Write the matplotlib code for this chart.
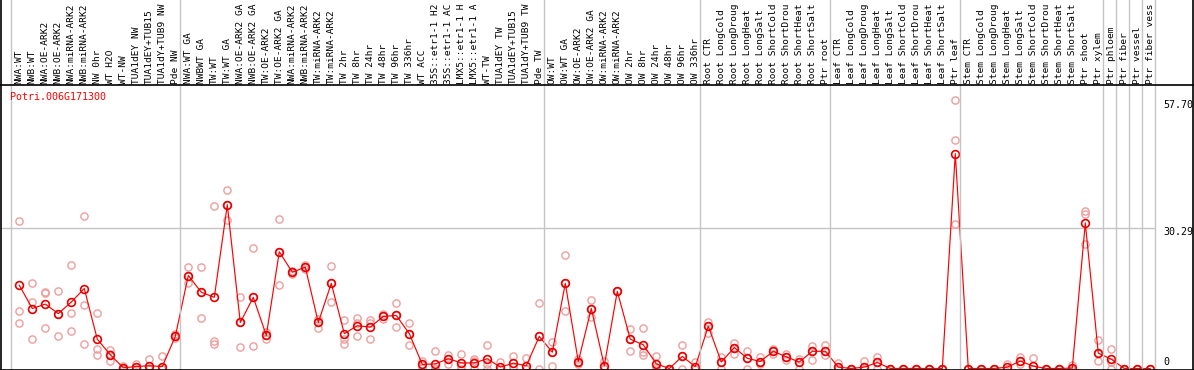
import matplotlib
matplotlib.use("Agg")
import matplotlib.pyplot as plt
from matplotlib.lines import Line2D
from matplotlib.transforms import blended_transform_factory

# ---------------- data ----------------
title = "Potri.006G171300"

labels = [
    "NWA:WT", "NWB:WT", "NWA:OE-ARK2", "NWB:OE-ARK2", "NWA:miRNA-ARK2", "NWB:miRNA-ARK2",
    "NW 0hr", "WT H2O", "WT-NW", "TUA1dEY NW", "TUA1dEY+TUB15", "TUA1dY+TUB9 NW", "Pde NW",
    "NWA:WT GA", "NWBWT GA", "TW:WT", "TW:WT GA", "NWA:OE-ARK2 GA", "NWB:OE-ARK2 GA",
    "TW:OE-ARK2", "TW:OE-ARK2 GA", "NWA:miRNA-ARK2", "NWB:miRNA-ARK2", "TW:miRNA-ARK2",
    "TW:miRNA-ARK2", "TW 2hr", "TW 8hr", "TW 24hr", "TW 48hr", "TW 96hr", "TW 336hr",
    "WT ACC", "35S::etr1-1 H2", "35S::etr1-1 AC", "LMX5::etr1-1 H", "LMX5::etr1-1 A",
    "WT-TW", "TUA1dEY TW", "TUA1dEY+TUB15", "TUA1dY+TUB9 TW", "Pde TW",
    "OW:WT", "OW:WT GA", "OW:OE-ARK2", "OW:OE-ARK2 GA", "OW:miRNA-ARK2", "OW:miRNA-ARK2",
    "OW 2hr", "OW 8hr", "OW 24hr", "OW 48hr", "OW 96hr", "OW 336hr",
    "Root CTR", "Root LongCold", "Root LongDroug", "Root LongHeat", "Root LongSalt",
    "Root ShortCold", "Root ShortDrou", "Root ShortHeat", "Root ShortSalt", "Ptr root",
    "Leaf CTR", "Leaf LongCold", "Leaf LongDroug", "Leaf LongHeat", "Leaf LongSalt",
    "Leaf ShortCold", "Leaf ShortDrou", "Leaf ShortHeat", "Leaf ShortSalt", "Ptr leaf",
    "Stem CTR", "Stem LongCold", "Stem LongDroug", "Stem LongHeat", "Stem LongSalt",
    "Stem ShortCold", "Stem ShortDrou", "Stem ShortHeat", "Stem ShortSalt", "Ptr shoot",
    "Ptr xylem", "Ptr phloem", "Ptr fiber", "Ptr vessel", "Ptr fiber vess",
]

means = [
    17.9, 12.9, 13.85, 11.8, 14.3, 17.2, 6.3, 2.95, 0.15, 0.43,
    0.58, 0.43, 6.9, 20.0, 16.4, 15.3, 35.2, 9.9, 15.3, 7.1,
    25.1, 20.7, 21.8, 9.9, 18.3, 7.5, 9.2, 8.9, 11.2, 11.4,
    7.5, 0.87, 1.0, 2.1, 1.2, 1.2, 2.1, 0.3, 1.15, 0.6,
    6.9, 3.5, 18.3, 1.5, 12.9, 0.6, 16.6, 6.3, 5.1, 1.0,
    0.0, 2.6, 0.4, 9.1, 1.4, 4.5, 2.2, 1.5, 3.7, 2.5,
    1.4, 3.7, 3.7, 0.3, 0.0, 0.3, 1.3, 0.0, 0.0, 0.0,
    0.0, 0.0, 46.2, 0.0, 0.0, 0.0, 0.3, 1.6, 0.5, 0.0,
    0.0, 0.1, 31.3, 3.3, 2.0, 0.0, 0.0, 0.0,
]

rep1 = [
    31.8, 18.4, 16.5, 16.7, 22.3, 32.8, 12.0, 4.0, 0.5, 1.0,
    2.0, 2.7, 7.4, 21.8, 21.9, 35.0, 38.3, 15.3, 26.0, 7.9,
    32.2, 20.9, 22.3, 10.7, 22.1, 10.5, 10.9, 10.4, 11.7, 14.1,
    9.7, 1.7, 3.7, 3.0, 3.2, 2.1, 5.1, 1.4, 2.7, 2.2,
    14.0, 5.7, 24.4, 2.0, 14.7, 1.7, 16.6, 8.4, 8.8, 2.6,
    0.0, 5.1, 1.4, 10.0, 2.5, 5.5, 3.7, 2.5, 4.2, 3.2,
    2.0, 4.8, 5.0, 1.2, 0.0, 1.6, 2.5, 0.0, 0.0, 0.0,
    0.0, 0.0, 57.7, 0.0, 0.0, 0.0, 1.0, 2.5, 2.2, 0.0,
    0.0, 0.8, 33.8, 6.2, 4.2, 0.0, 0.0, 0.0,
]

rep2 = [
    12.3, 14.3, 16.2, 11.8, 12.0, 13.6, 4.2, 3.2, 0.0, 0.3,
    0.2, 0.0, 6.9, 19.9, 16.4, 5.9, 35.2, 9.9, 15.3, 7.1,
    25.1, 20.7, 21.8, 9.9, 18.3, 6.4, 9.8, 9.8, 11.2, 11.4,
    7.5, 0.8, 0.2, 2.1, 0.5, 1.6, 0.9, 0.0, 0.4, 0.0,
    6.9, 3.5, 18.3, 1.5, 12.9, 0.2, 16.6, 6.3, 3.5, 0.4,
    0.0, 2.6, 0.0, 9.1, 1.4, 4.5, 2.2, 1.5, 3.7, 2.5,
    1.4, 3.7, 3.7, 0.0, 0.0, 0.0, 1.3, 0.0, 0.0, 0.0,
    0.0, 0.0, 49.1, 0.0, 0.0, 0.0, 0.0, 1.6, 0.0, 0.0,
    0.0, 0.0, 33.3, 3.3, 1.5, 0.0, 0.0, 0.0,
]

rep3 = [
    9.7, 6.4, 8.8, 6.9, 8.0, 5.3, 2.8, 1.7, 0.0, 0.0,
    0.0, 0.0, 6.5, 18.3, 10.9, 5.3, 32.0, 4.7, 4.9, 6.4,
    18.0, 20.4, 21.3, 8.8, 14.4, 5.3, 7.0, 6.4, 10.7, 9.0,
    5.1, 0.2, 0.0, 1.0, 0.0, 0.0, 0.0, 0.0, 0.4, 0.0,
    0.0, 0.6, 12.3, 1.0, 11.1, 0.0, 16.6, 3.8, 3.0, 0.0,
    0.0, 0.0, 0.0, 7.6, 0.0, 3.2, 0.0, 0.9, 3.2, 1.8,
    0.0, 1.9, 2.8, 0.0, 0.0, 0.0, 0.0, 0.0, 0.0, 0.0,
    0.0, 0.0, 31.1, 0.0, 0.0, 0.0, 0.0, 0.9, 0.0, 0.0,
    0.0, 0.0, 26.8, 1.7, 0.0, 0.0, 0.0, 0.0,
]

group_ends = [-1, 12, 40, 52, 62, 72, 83, 84, 85, 86, 87]
ytick_values = [57.70, 30.29, 0]
ytick_texts = ["57.70", "30.29", "0"]
grid_value = 30.29

# ---------------- figure ----------------
W, H = 1194, 370
fig = plt.figure(figsize=(W / 100, H / 100), dpi=100)
fig.patch.set_facecolor("white")

def fx(px):
    return px / W

def fy(py):
    return 1 - py / H

# plot area in pixels
L, R, T, B = 1, 1155, 85, 369
ax = fig.add_axes([fx(L), fy(B), fx(R) - fx(L), fy(T) - fy(B)])
ax.set_facecolor("none")
for s in ax.spines.values():
    s.set_visible(False)
ax.set_xticks([])
ax.set_yticks([])

x0_px, step_px = 19.3, 13.0
ax.set_xlim((L - x0_px) / step_px, (R - x0_px) / step_px)
zero_px, scale = 368.5, 4.65
ax.set_ylim((zero_px - B) / scale, (zero_px - T) / scale)

xs = list(range(len(means)))
mono = "DejaVu Sans Mono"
grey = "#c4c4c4"

# horizontal grid
ax.axhline(grid_value, color=grey, lw=1.0, zorder=1)

# vertical group separators (full height)
bt = blended_transform_factory(ax.transData, fig.transFigure)
for g in group_ends:
    fig.add_artist(Line2D([g + 0.37, g + 0.37], [0, 1], transform=bt,
                          color=grey, lw=1.0, zorder=1))

# replicates
pink = "#ee9e9e"
for reps in (rep1, rep2, rep3):
    ax.plot(xs, reps, ls="none", marker="o", ms=5.2, mfc="none", mec=pink,
            mew=1.0, clip_on=False, zorder=2)

# mean line
ax.plot(xs, means, color="#ff0000", lw=0.85, marker="o", ms=5.6, mfc="none",
        mec="#e60000", mew=1.2, clip_on=False, zorder=3)

# title
fig.text(fx(10), fy(97), title, color="#ff0000", fontsize=7.2, family=mono,
         ha="left", va="center")

# header labels
for i, lab in enumerate(labels):
    fig.text(i, fy(83.5), lab, transform=bt, rotation=90, ha="center", va="bottom",
             fontsize=6.8, family=mono, color="black")

# y labels
for yv, yt in zip(ytick_values, ytick_texts):
    ypx = zero_px - yv * scale + 4.5
    if yv == 0:
        ypx = 362
    fig.text(fx(1163), fy(ypx), yt, fontsize=7.2, family=mono,
             ha="left", va="center", color="black")

# black borders
def fig_line(xp, yp):
    fig.add_artist(Line2D([fx(v) for v in xp], [fy(v) for v in yp],
                          transform=fig.transFigure, color="black", lw=1.2))

fig_line([1, 1], [0, H])
fig_line([1193, 1193], [0, H])
fig_line([0, W], [85, 85])
fig_line([0, W], [369.5, 369.5])

fig.savefig("out.png", dpi=100, facecolor="white")
